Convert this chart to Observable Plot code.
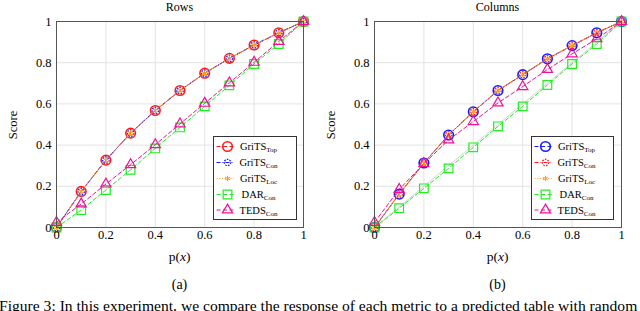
<!DOCTYPE html>
<html><head><meta charset="utf-8">
<script src="https://cdn.jsdelivr.net/npm/d3@7"></script>
<script src="https://cdn.jsdelivr.net/npm/@observablehq/plot@0.6"></script>
<style>
html,body{margin:0;padding:0;background:#fff;}
#root{position:relative;width:640px;height:311px;overflow:hidden;font-family:"Liberation Serif","DejaVu Serif",serif;color:#000;background:#fff;}
.t{position:absolute;white-space:nowrap;line-height:1;}
.c{transform:translate(-50%,-50%);}
</style></head><body><div id="root"></div>
<script>
// ---- data ----
const p = [0, 0.1, 0.2, 0.3, 0.4, 0.5, 0.6, 0.7, 0.8, 0.9, 1];
const tickValues = [0, 0.2, 0.4, 0.6, 0.8, 1];
const tickLabels = ["0", "0.2", "0.4", "0.6", "0.8", "1"];
const seriesNames = ["GriTS_Top", "GriTS_Con", "GriTS_Loc", "DAR_Con", "TEDS_Con"];

const rowsTop  = [0, 0.175, 0.327, 0.458, 0.568, 0.665, 0.749, 0.821, 0.886, 0.945, 1];
const rowsCon  = [0, 0.175, 0.327, 0.458, 0.568, 0.665, 0.749, 0.821, 0.886, 0.945, 1];
const rowsLoc  = [0, 0.175, 0.327, 0.458, 0.568, 0.665, 0.749, 0.821, 0.886, 0.945, 1];
const rowsDAR  = [0, 0.085, 0.182, 0.280, 0.384, 0.486, 0.588, 0.690, 0.794, 0.891, 1];
const rowsTEDS = [0.025, 0.114, 0.211, 0.305, 0.402, 0.503, 0.603, 0.702, 0.802, 0.903, 1];

const colsTop  = [0, 0.162, 0.313, 0.449, 0.562, 0.665, 0.742, 0.819, 0.883, 0.945, 1];
const colsCon  = [0, 0.162, 0.313, 0.449, 0.562, 0.665, 0.742, 0.819, 0.883, 0.945, 1];
const colsLoc  = [0, 0.162, 0.313, 0.449, 0.562, 0.665, 0.742, 0.819, 0.883, 0.945, 1];
const colsDAR  = [0, 0.094, 0.190, 0.287, 0.389, 0.491, 0.588, 0.692, 0.794, 0.891, 1];
const colsTEDS = [0.025, 0.185, 0.310, 0.425, 0.514, 0.605, 0.684, 0.767, 0.843, 0.916, 1];

const diagX = [0, 1];
const diagY = [0, 1];

// ---- styles ----
const RED = "#ff1a1a", BLUE = "#1a1aff", ORANGE = "#ff9a1a", GREEN = "#22ee22", MAGENTA = "#ee1199";
const FONT = "'Liberation Serif', 'DejaVu Serif', serif";

function styleFor(name, swap) {
  const topC = swap ? BLUE : RED, conC = swap ? RED : BLUE;
  switch (name) {
    case "GriTS_Top": return {color: topC, dash: "4,2.5", sym: "circle", r: 4.8, sw: 1.6, sdash: null};
    case "GriTS_Con": return {color: conC, dash: "4,2,1,2", sym: "circle", r: 3.2, sw: 1.3, sdash: "1.6,1.2"};
    case "GriTS_Loc": return {color: ORANGE, dash: "1,1.8", sym: "asterisk", r: 2.6, sw: 1.1, sdash: null};
    case "DAR_Con":   return {color: GREEN, dash: "4,2.5", sym: "square", r: 4.9, sw: 1.2, sdash: null};
    case "TEDS_Con":  return {color: MAGENTA, dash: "4,2.5", sym: "triangle", r: 3.8, sw: 1.2, sdash: null};
  }
}

function panel(data, swap, ml, mr, diag) {
  const marks = [
    Plot.gridX(tickValues, {stroke: "#dcdcdc", strokeOpacity: 1, strokeWidth: 0.8}),
    Plot.gridY(tickValues, {stroke: "#dcdcdc", strokeOpacity: 1, strokeWidth: 0.8})
  ];
  if (diag) {
    marks.push(Plot.line(diagX.map((x, i) => ({x, y: diagY[i]})), {x: "x", y: "y", stroke: "#c8c8c8", strokeWidth: 0.8}));
  }
  seriesNames.forEach((name, k) => {
    const s = styleFor(name, swap);
    const rows = p.map((x, i) => ({x, y: data[k][i]}));
    marks.push(Plot.line(rows, {x: "x", y: "y", stroke: s.color, strokeWidth: 1, strokeDasharray: s.dash}));
    marks.push(Plot.dot(rows, {x: "x", y: "y", symbol: s.sym, r: s.r, stroke: s.color, fill: "none", strokeWidth: s.sw, strokeDasharray: s.sdash}));
  });
  marks.push(Plot.frame({stroke: "#555", strokeWidth: 1}));
  marks.push(Plot.axisX(tickValues, {tickSize: 0, tickPadding: 3, tickFormat: (d, i) => tickLabels[i], fontSize: 12.5}));
  marks.push(Plot.axisY(tickValues, {tickSize: 0, tickPadding: 5, tickFormat: (d, i) => tickLabels[i], fontSize: 12.5}));
  return Plot.plot({
    width: 320, height: 250,
    marginTop: 21, marginBottom: 23, marginLeft: ml, marginRight: mr,
    x: {domain: [0, 1], label: null},
    y: {domain: [0, 1], label: null},
    style: {fontFamily: FONT, fontSize: "12.5px", background: "transparent", overflow: "visible", color: "#000"},
    marks
  });
}

const root = document.getElementById("root");
function place(el, x, y) {
  const d = document.createElement("div");
  d.style.position = "absolute"; d.style.left = x + "px"; d.style.top = y + "px";
  d.appendChild(el); root.appendChild(d); return d;
}
place(panel([rowsTop, rowsCon, rowsLoc, rowsDAR, rowsTEDS], false, 56, 17, false), 0, 0);
place(panel([colsTop, colsCon, colsLoc, colsDAR, colsTEDS], true, 54, 19, true), 320, 0);

function text(html, x, y, size, extra) {
  const d = document.createElement("div");
  d.className = "t c"; d.innerHTML = html;
  d.style.left = x + "px"; d.style.top = y + "px"; d.style.fontSize = size + "px";
  if (extra) d.style.transform = extra;
  root.appendChild(d); return d;
}
text("Rows", 179.5, 7, 12);
text("Columns", 497.5, 7, 12);
text("Score", 13, 125, 12.5, "translate(-50%,-50%) rotate(-90deg)");
text("Score", 331, 125, 12.5, "translate(-50%,-50%) rotate(-90deg)");
text("p(<i>x</i>)", 179.5, 257, 13.5);
text("p(<i>x</i>)", 497.5, 257, 13.5);
text("(a)", 179.5, 285, 14);
text("(b)", 497.5, 285, 14);
const cap = document.createElement("div");
cap.className = "t"; cap.style.left = "-1px"; cap.style.top = "297.5px"; cap.style.fontSize = "15.6px";
cap.textContent = "Figure 3: In this experiment, we compare the response of each metric to a predicted table with random";
root.appendChild(cap);

// ---- legends ----
const labels = [["GriTS", "Top"], ["GriTS", "Con"], ["GriTS", "Loc"], ["DAR", "Con"], ["TEDS", "Con"]];
function legend(x, y, w, h, swap) {
  const svg = d3.create("svg").attr("width", w).attr("height", h)
    .style("position", "absolute").style("left", x + "px").style("top", y + "px");
  svg.append("rect").attr("x", 0.5).attr("y", 0.5).attr("width", w - 1).attr("height", h - 1)
    .attr("fill", "#fff").attr("stroke", "#333").attr("stroke-width", 1);
  const rowsY = [10.5, 26.5, 42.5, 58.5, 74];
  const symMap = {circle: d3.symbolCircle, square: d3.symbolSquare, triangle: d3.symbolTriangle, asterisk: d3.symbolAsterisk};
  seriesNames.forEach((name, k) => {
    const s = styleFor(name, swap);
    const g = svg.append("g").attr("transform", `translate(0,${rowsY[k]})`);
    g.append("line").attr("x1", 3.5).attr("x2", 21).attr("y1", 0).attr("y2", 0)
      .attr("stroke", s.color).attr("stroke-width", 1).attr("stroke-dasharray", s.dash);
    g.append("path").attr("transform", "translate(14.5,0)")
      .attr("d", d3.symbol(symMap[s.sym], Math.PI * s.r * s.r)())
      .attr("fill", "none").attr("stroke", s.color).attr("stroke-width", s.sw)
      .attr("stroke-dasharray", s.sdash);
    const t = g.append("text").attr("x", 45.5).attr("y", 3.5).attr("text-anchor", "middle")
      .style("font-family", FONT).style("font-size", "10.5px");
    t.append("tspan").text(labels[k][0]);
    t.append("tspan").attr("dy", 2).style("font-size", "7px").text(labels[k][1]);
  });
  root.appendChild(svg.node());
}
legend(213, 136, 84, 84, false);
legend(531, 136, 83, 84, true);
</script>
</body></html>
